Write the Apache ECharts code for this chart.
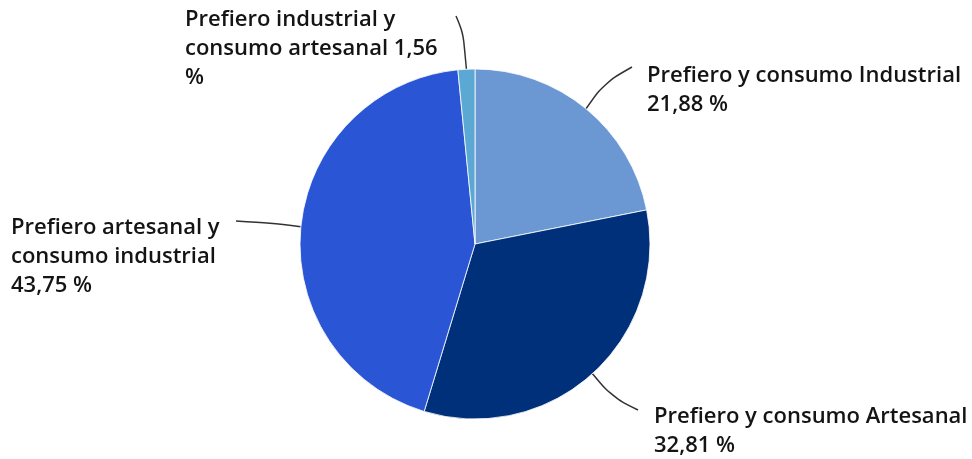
<!DOCTYPE html>
<html>
<head>
<meta charset="utf-8">
<script src="https://cdn.jsdelivr.net/npm/echarts@6/dist/echarts.min.js"></script>
<style>
  html, body { margin: 0; padding: 0; background: #fff; }
  #chart { width: 972px; height: 459px; }
</style>
</head>
<body>
<div id="chart"></div>
<script>
// Preferencia frente a consumo: porcentaje de encuestados por grupo
const categories = [
  'Prefiero y consumo Industrial',
  'Prefiero y consumo Artesanal',
  'Prefiero artesanal y\nconsumo industrial',
  'Prefiero industrial y\nconsumo artesanal'
];
const values = [21.88, 32.81, 43.75, 1.56];
const colors = ['#6b97d3', '#00307a', '#2a56d5', '#5ca8d4'];

// Label text templates (value appended with comma decimals)
const labelFormats = [
  '{name}\n{v} %',
  '{name}\n{v} %',
  '{name}\n{v} %',
  '{name} {v}\n%'
];

// Top-left corner of each label block
const labelSpots = [
  { x: 647, y: 61 },
  { x: 654, y: 402 },
  { x: 11, y: 213 },
  { x: 185, y: 5 }
];

// Leader line bend and end points (the start comes from the slice edge)
const lineBends = [
  [[604, 83], [632, 67]],
  [[612, 397], [638, 410]],
  [[270, 223], [236, 221]],
  [[463, 32], [456, 16]]
];

const fmt = v => v.toFixed(2).replace('.', ',');

const chart = echarts.init(document.getElementById('chart'), null, { renderer: 'canvas' });
chart.setOption({
  animation: false,
  series: [{
    type: 'pie',
    center: [475, 244],
    radius: 175,
    startAngle: 90,
    clockwise: true,
    itemStyle: { borderColor: '#ffffff', borderWidth: 0.8 },
    data: categories.map((c, i) => ({
      name: c,
      value: values[i],
      itemStyle: { color: colors[i] }
    })),
    label: {
      show: true,
      color: '#141414',
      fontFamily: 'Open Sans',
      fontWeight: 600,
      fontSize: 22,
      lineHeight: 29,
      align: 'left',
      formatter: p => labelFormats[p.dataIndex]
        .replace('{name}', p.name)
        .replace('{v}', fmt(p.value))
    },
    labelLine: {
      show: true,
      smooth: 0.35,
      length: 30,
      length2: 20,
      lineStyle: { color: '#333', width: 1.5 }
    },
    labelLayout: p => {
      const i = p.dataIndex;
      const start = p.labelLinePoints ? p.labelLinePoints[0] : lineBends[i][0];
      return {
        x: labelSpots[i].x,
        y: labelSpots[i].y,
        align: 'left',
        verticalAlign: 'top',
        labelLinePoints: [start, lineBends[i][0], lineBends[i][1]]
      };
    }
  }]
});
</script>
</body>
</html>
